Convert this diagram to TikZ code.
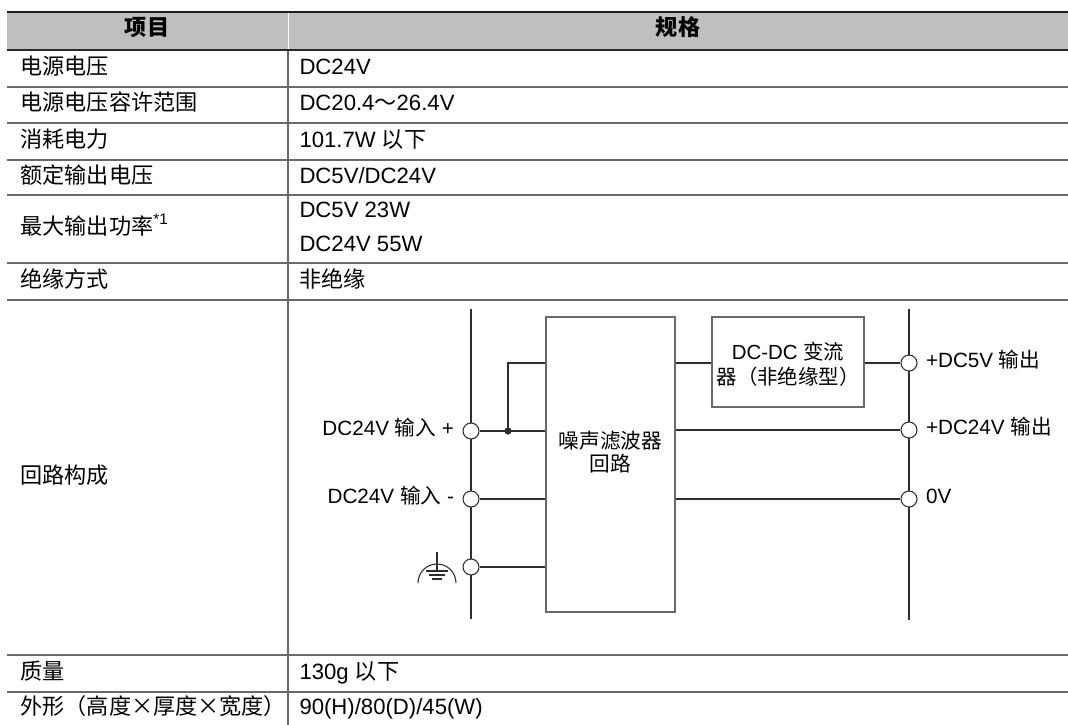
\documentclass[tikz,border=0pt]{standalone}
\usepackage{fontspec}
\setmainfont{Liberation Sans}
\newfontfamily\cjk{Noto Sans CJK SC}
\usetikzlibrary{positioning}
\definecolor{headgray}{RGB}{190,191,193}
\definecolor{rulegray}{RGB}{105,105,105}
\definecolor{wiregray}{RGB}{45,45,45}
\newcommand{\zh}[1]{{\cjk #1}}

\tikzset{every picture/.style={line width=0.75pt}}

\begin{document}
\begin{tikzpicture}[x=0.75pt,y=0.75pt,yscale=-1,xscale=1,
  txt/.style={inner sep=0pt,font=\fontsize{15.5}{18}\selectfont,text height=0.78em,text depth=0.14em},
  cell/.style={txt,anchor=west,font=\fontsize{16.6}{19}\selectfont,yshift=-1pt},
  head/.style={txt,font=\fontsize{16.6}{19}\selectfont\bfseries},
  blocktxt/.style={inner sep=0pt,align=center,font=\fontsize{15.3}{18.5}\selectfont},
  rowline/.style={draw=rulegray,line width=1.1pt},
  wire/.style={draw=wiregray,line width=0.8pt},
  blockbox/.style={draw=rulegray,line width=1.1pt,fill=white,inner sep=0pt},
  term/.style={circle,draw=wiregray,line width=0.8pt,fill=white,inner sep=0pt,minimum size=12pt}]
	\useasboundingbox (0,0) rectangle (1068,725);

	%Shape: Rectangle (header)
	\fill [headgray] (7,12) rectangle (1068,50);
	\draw [white,line width=0.6pt] (288,12) -- (288,50);
	\draw [draw={rgb,255:red,30;green,30;blue,30},line width=1.9pt] (7,12) -- (1068,12);
	\draw [draw={rgb,255:red,40;green,40;blue,40},line width=1.7pt] (7,50) -- (1068,50);

	%Straight Lines (rows)
	\foreach \y in {87,123,160,195,263,300,655,692}
	  \draw [rowline] (7,\y) -- (1068,\y);
	%Straight Lines (column divider)
	\draw [draw=rulegray,line width=1pt] (288,51) -- (288,725);

	% Text Node
	\node [head] (hItem) at (147,31) {\zh{项目}};
	% Text Node
	\node [head] (hSpec) at (678,31) {\zh{规格}};

	% Text Node
	\node [cell] (k1) at (20,68.5) {\zh{电源电压}};
	\node [cell] (k2) at (20,105) {\zh{电源电压容许范围}};
	\node [cell] (k3) at (20,141.5) {\zh{消耗电力}};
	\node [cell] (k4) at (20,177.5) {\zh{额定输出电压}};
	\node [cell] (k5) at (20,229) {\zh{最大输出功率}\raisebox{0.45em}{\fontsize{11.5}{12}\selectfont *1}};
	\node [cell] (k6) at (20,281.5) {\zh{绝缘方式}};
	\node [cell] (k7) at (20,477.5) {\zh{回路构成}};
	\node [cell] (k8) at (20,673.5) {\zh{质量}};
	\node [cell] (k9) at (20,708.5) {\zh{外形（高度×厚度×宽度）}};

	% Text Node
	\node [cell] (v1) at (299,68.5) {DC24V};
	\node [cell] (v2) at (299,105) {DC20.4\zh{～}26.4V};
	\node [cell] (v3) at (299,141.5) {101.7W \zh{以下}};
	\node [cell] (v4) at (299,177.5) {DC5V/DC24V};
	\node [cell] (v5a) at (299,212) {DC5V 23W};
	\node [cell] (v5b) at (299,245.5) {DC24V 55W};
	\node [cell] (v6) at (299,281.5) {\zh{非绝缘}};
	\node [cell] (v8) at (299,673.5) {130g \zh{以下}};
	\node [cell] (v9) at (299,708.5) {90(H)/80(D)/45(W)};

	%Straight Lines (input and output buses)
	\coordinate (lbusT) at (471,309);
	\coordinate (lbusB) at (471,619);
	\coordinate (rbusT) at (909,309);
	\coordinate (rbusB) at (909,620);
	\draw [wire] (lbusT) -- (lbusB);
	\draw [wire] (rbusT) -- (rbusB);

	%Shape: Rectangle
	\node [blockbox,minimum width=96.75pt,minimum height=221.25pt] (filter) at (610.5,464.5) {};
	%Shape: Rectangle
	\node [blockbox,minimum width=114pt,minimum height=67.5pt] (dcdc) at (788,362) {};

	%Shape: Circle
	\node [term] (inP) at (471,431) {};
	\node [term] (inN) at (471,499) {};
	\node [term] (inG) at (471,567) {};
	\node [term] (out5) at (909,363) {};
	\node [term] (out24) at (909,430) {};
	\node [term] (out0) at (909,499) {};

	%Straight Lines
	\coordinate (jn) at (508,431);
	\draw [wire] (inP.east) -- (inP.east -| filter.west);
	\draw [wire] (inN.east) -- (inN.east -| filter.west);
	\draw [wire] (inG.east) -- (inG.east -| filter.west);
	\draw [wire] (jn) -- (jn |- out5) -- (out5 -| filter.west);
	\fill [wiregray] (jn) circle [radius=3.6];
	\draw [wire] (filter.east |- out5) -- (dcdc.west |- out5);
	\draw [wire] (dcdc.east |- out5) -- (out5.west);
	\draw [wire] (filter.east |- out24) -- (out24.west);
	\draw [wire] (filter.east |- out0) -- (out0.west);

	%Shape: Ground
	\draw [wire] (418,583) arc [start angle=180,end angle=360,radius=19];
	\draw [wire] (437,552) -- (437,571);
	\draw [wire] (426,571) -- (448,571);
	\draw [wire] (429,575) -- (445,575);
	\draw [wire] (432,579) -- (442,579);

	% Text Node
	\node [blocktxt,font=\fontsize{15.5}{17.5}\selectfont\cjk] (filterTxt) at (610.5,452) {噪声滤波器\\回路};
	% Text Node
	\node [blocktxt] (dcdcTxt) at (788,364) {DC-DC \zh{变流}\\\zh{器（非绝缘型）}};
	% Text Node
	\node [txt,left=6pt of inP] (lblInP) {DC24V \zh{输入} +};
	\node [txt,left=6pt of inN] (lblInN) {DC24V \zh{输入} -};
	\node [txt,right=6pt of out5] (lblOut5) {+DC5V \zh{输出}};
	\node [txt,right=6pt of out24] (lblOut24) {+DC24V \zh{输出}};
	\node [txt,right=6pt of out0] (lblOut0) {0V};

\end{tikzpicture}
\end{document}
